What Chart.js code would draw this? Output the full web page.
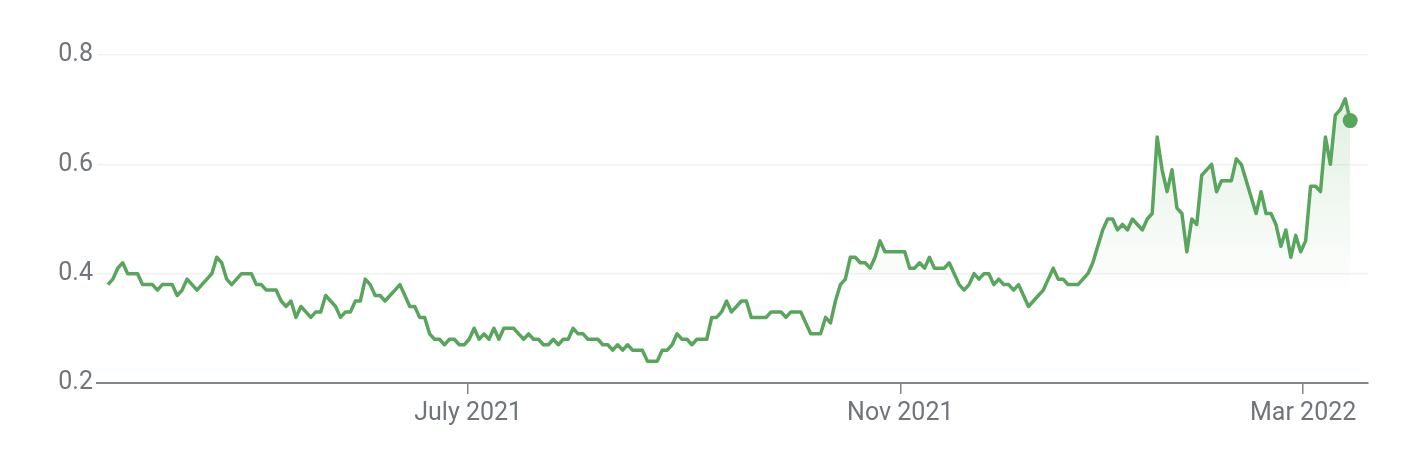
<!DOCTYPE html>
<html>
<head>
<meta charset="utf-8">
<script src="https://cdn.jsdelivr.net/npm/chart.js@4"></script>
<style>
  body { margin: 0; background: #fff; }
  canvas { display: block; }
</style>
</head>
<body>
<canvas id="priceChart" width="1402" height="452"></canvas>
<script>
// daily closes, roughly one year of trading days
const prices = [
  0.38, 0.39, 0.41, 0.42, 0.40, 0.40, 0.40, 0.38, 0.38, 0.38,
  0.37, 0.38, 0.38, 0.38, 0.36, 0.37, 0.39, 0.38, 0.37, 0.38,
  0.39, 0.40, 0.43, 0.42, 0.39, 0.38, 0.39, 0.40, 0.40, 0.40,
  0.38, 0.38, 0.37, 0.37, 0.37, 0.35,
  0.34, 0.35, 0.32, 0.34, 0.33, 0.32, 0.33, 0.33, 0.36, 0.35,
  0.34, 0.32, 0.33, 0.33, 0.35, 0.35, 0.39, 0.38, 0.36, 0.36,
  0.35, 0.36, 0.37, 0.38, 0.36, 0.34, 0.34, 0.32, 0.32, 0.29,
  0.28, 0.28, 0.27, 0.28, 0.28,
  0.27, 0.27, 0.28, 0.30, 0.28, 0.29, 0.28, 0.30, 0.28, 0.30,
  0.30, 0.30, 0.29, 0.28, 0.29, 0.28, 0.28, 0.27, 0.27, 0.28,
  0.27, 0.28, 0.28, 0.30, 0.29, 0.29, 0.28, 0.28, 0.28, 0.27,
  0.27, 0.26, 0.27, 0.26, 0.27,
  0.26, 0.26, 0.26, 0.24, 0.24, 0.24, 0.26, 0.26, 0.27, 0.29,
  0.28, 0.28, 0.27, 0.28, 0.28, 0.28, 0.32, 0.32, 0.33, 0.35,
  0.33, 0.34, 0.35, 0.35, 0.32, 0.32, 0.32, 0.32, 0.33, 0.33,
  0.33, 0.32, 0.33, 0.33, 0.33, 0.31,
  0.29, 0.29, 0.29, 0.32, 0.31, 0.35, 0.38, 0.39, 0.43, 0.43,
  0.42, 0.42, 0.41, 0.43, 0.46, 0.44, 0.44, 0.44, 0.44, 0.44,
  0.41, 0.41, 0.42, 0.41, 0.43, 0.41, 0.41, 0.41, 0.42, 0.40,
  0.38, 0.37, 0.38, 0.40, 0.39,
  0.40, 0.40, 0.38, 0.39, 0.38, 0.38, 0.37, 0.38, 0.36, 0.34,
  0.35, 0.36, 0.37, 0.39, 0.41, 0.39, 0.39, 0.38, 0.38, 0.38,
  0.39, 0.40, 0.42, 0.45, 0.48, 0.50, 0.50, 0.48, 0.49, 0.48,
  0.50, 0.49, 0.48, 0.50, 0.51, 0.65,
  0.59, 0.55, 0.59, 0.52, 0.51, 0.44, 0.50, 0.49, 0.58, 0.59,
  0.60, 0.55, 0.57, 0.57, 0.57, 0.61, 0.60, 0.57, 0.54, 0.51,
  0.55, 0.51, 0.51, 0.49, 0.45, 0.48, 0.43, 0.47, 0.44, 0.46,
  0.56, 0.56, 0.55, 0.65, 0.60, 0.69, 0.70, 0.72, 0.68
];

// month ticks, as positions in the trading-day index
const tickIndex = [72.8, 160.1, 241.5];
const tickLabels = ['July 2021', 'Nov 2021', 'Mar 2022'];

const yTicks = [0.2, 0.4, 0.6, 0.8];

const lineColor = '#58a55c';
const textColor = '#70757a';

const points = prices.map((v, i) => ({ x: i, y: v }));
const lastIdx = prices.length - 1;

function fillGradient(context) {
    const chart = context.chart;
    const area = chart.chartArea;
    if (!area) return 'rgba(88,165,92,0.1)';
    const yScale = chart.scales.y;
    const g = chart.ctx.createLinearGradient(0, area.top, 0, yScale.getPixelForValue(0.36));
    g.addColorStop(0, 'rgba(88,165,92,0.22)');
    g.addColorStop(1, 'rgba(88,165,92,0)');
    return g;
}

const ctx = document.getElementById('priceChart').getContext('2d');

new Chart(ctx, {
    type: 'line',
    data: {
        datasets: [{
            data: points,
            borderColor: lineColor,
            borderWidth: 3.5,
            backgroundColor: fillGradient,
            fill: 'start',
            tension: 0,
            borderJoinStyle: 'round',
            pointRadius: c => (c.dataIndex === lastIdx ? 7.5 : 0),
            pointBackgroundColor: lineColor,
            pointBorderWidth: 0,
        }],
    },
    options: {
        responsive: false,
        animation: false,
        layout: {
            padding: { top: 55, right: 34, bottom: 0, left: 0 },
        },
        plugins: {
            legend: { display: false },
            tooltip: { enabled: false },
        },
        scales: {
            x: {
                type: 'linear',
                min: -2.2,
                max: 254.6,
                afterBuildTicks: scale => {
                    scale.ticks = tickIndex.map(v => ({ value: v }));
                },
                afterFit: scale => {
                    scale.height = 69;
                },
                ticks: {
                    autoSkip: false,
                    maxRotation: 0,
                    padding: 5,
                    color: textColor,
                    font: { family: 'Roboto', size: 25 },
                    callback: (value, index) => tickLabels[index],
                },
                grid: {
                    drawOnChartArea: false,
                    drawTicks: true,
                    tickLength: 11,
                    color: '#80868b',
                    lineWidth: 1.5,
                },
                border: {
                    color: '#80868b',
                    width: 2,
                },
            },
            y: {
                min: 0.2,
                max: 0.8,
                afterBuildTicks: scale => {
                    scale.ticks = yTicks.map(v => ({ value: v }));
                },
                afterFit: scale => {
                    scale.width = 97;
                },
                ticks: {
                    padding: 4,
                    color: textColor,
                    font: { family: 'Roboto', size: 25 },
                    callback: v => v.toFixed(1),
                },
                grid: {
                    drawTicks: false,
                    color: c => (c.tick && c.tick.value === 0.2 ? 'rgba(0,0,0,0)' : '#f1f1f1'),
                    lineWidth: 1.5,
                },
                border: { display: false },
            },
        },
    },
});
</script>
</body>
</html>
